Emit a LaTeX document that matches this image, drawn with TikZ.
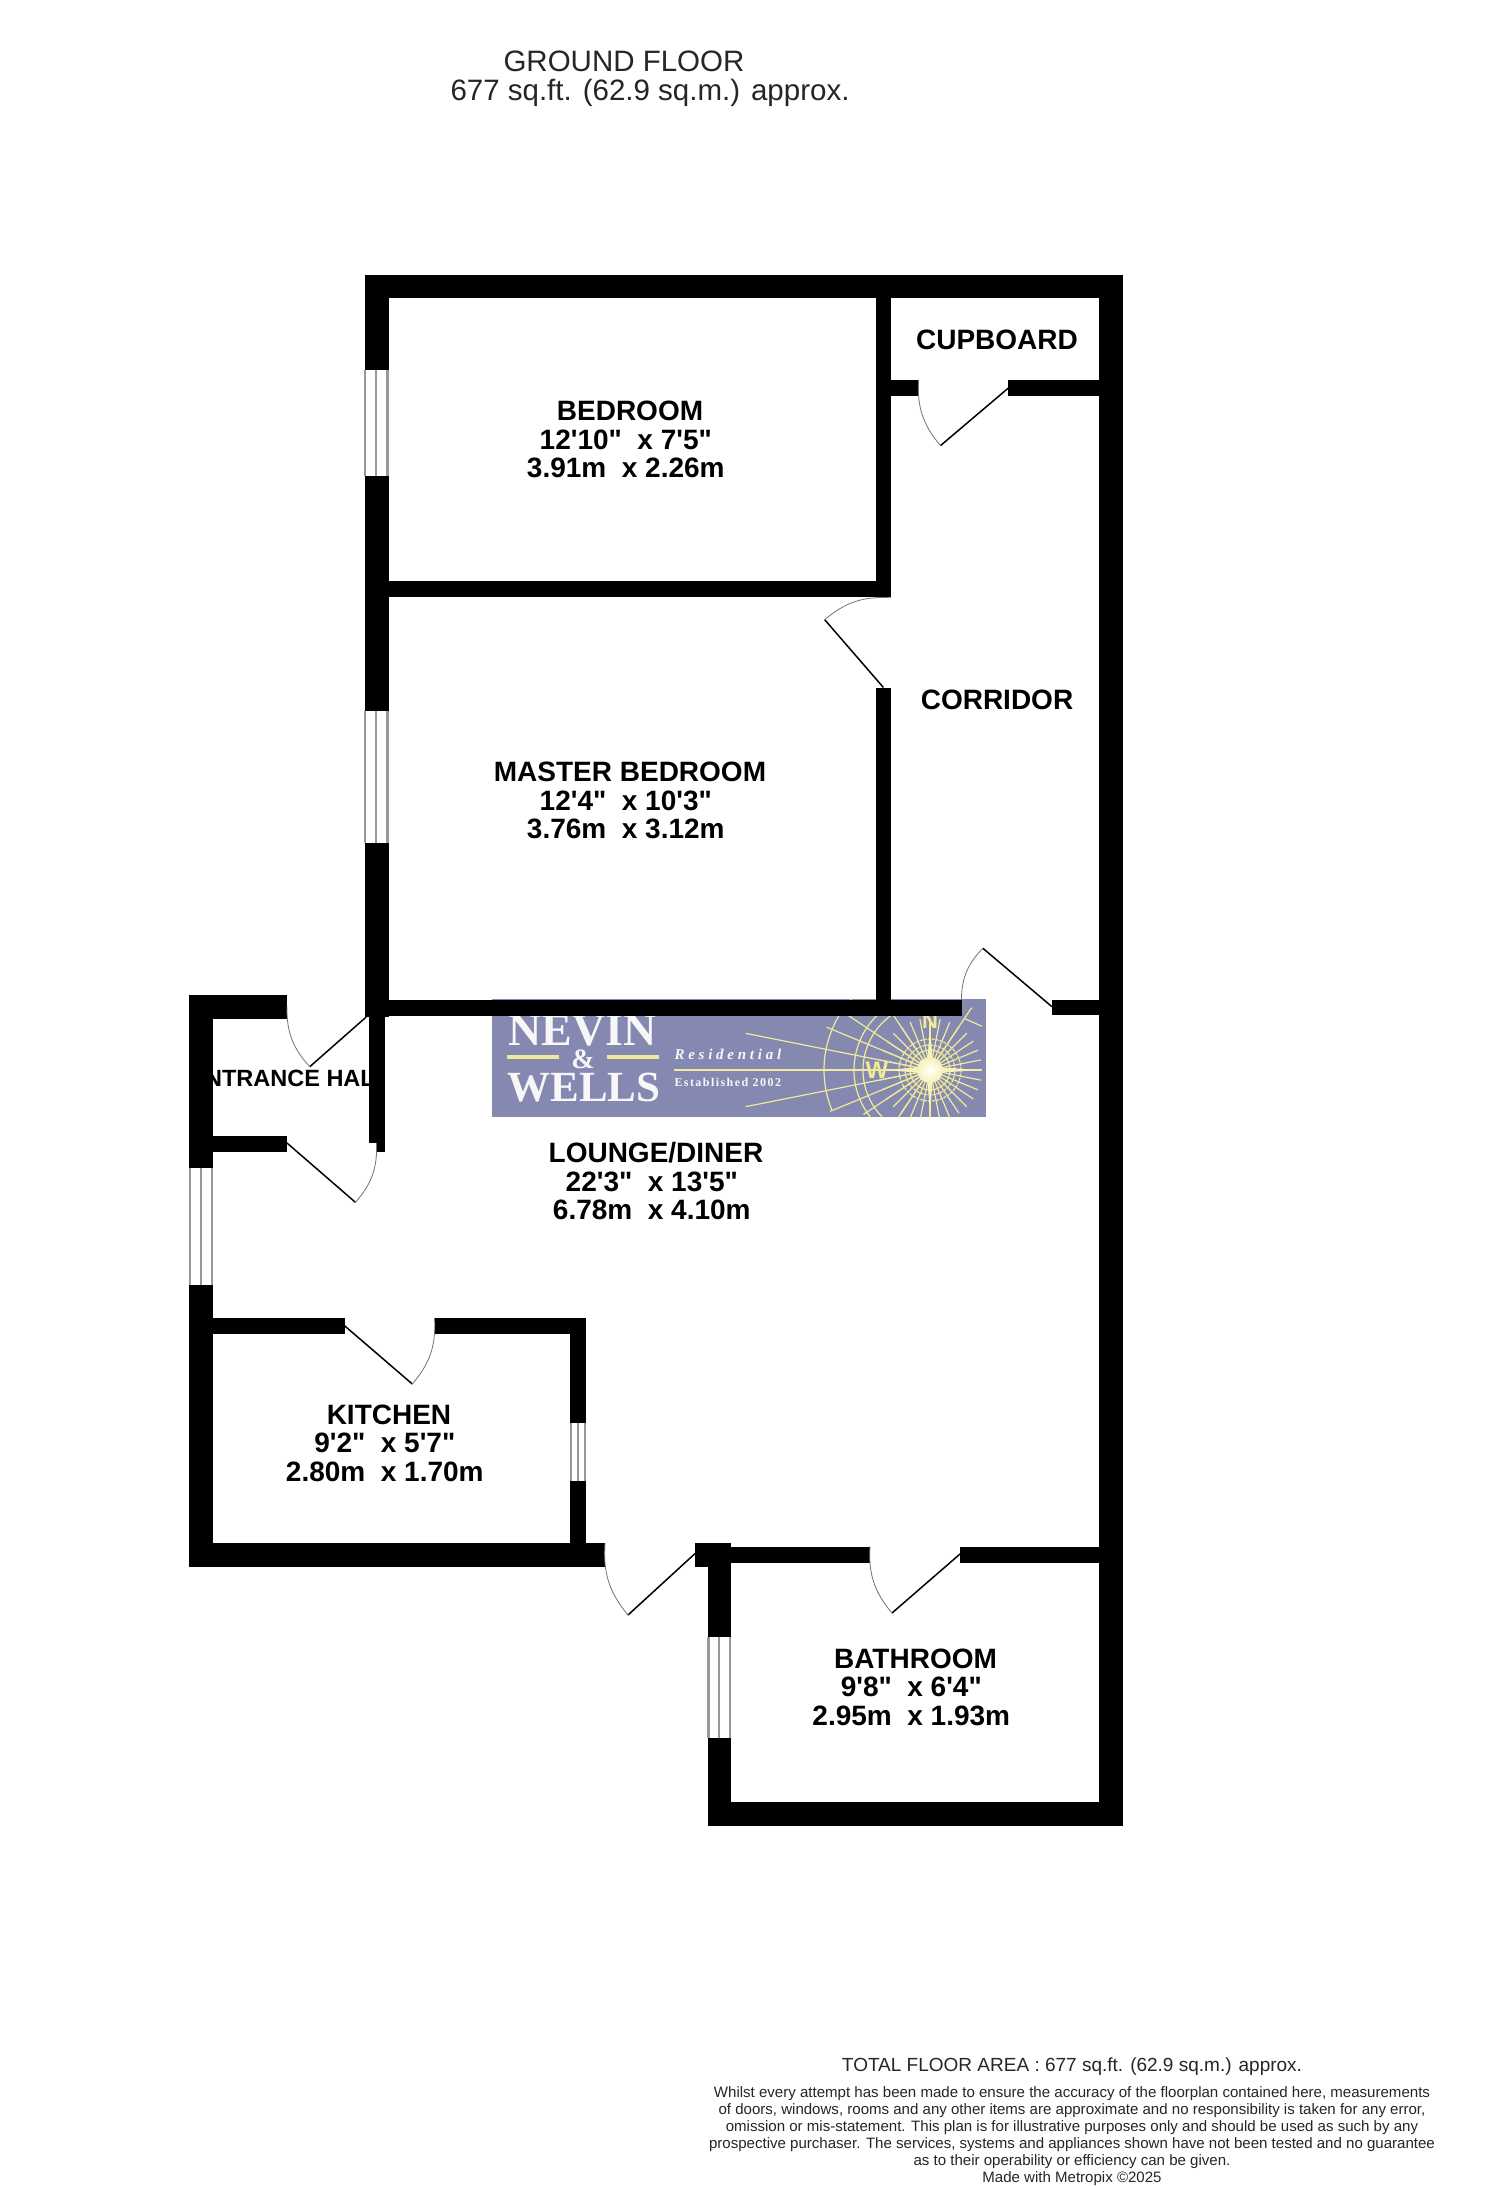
\documentclass[tikz,border=0pt]{standalone}
\usepackage{fontspec}
\setmainfont[Ligatures=TeXOff]{Liberation Sans}
\newfontfamily\logofont{Liberation Serif}
\newfontfamily\logoresid[LetterSpace=25]{Liberation Serif}
\newfontfamily\logoestab[LetterSpace=12]{Liberation Serif}
\usetikzlibrary{calc}
\definecolor{logobg}{HTML}{8589B2}
\definecolor{logoyl}{HTML}{F0EB98}
\definecolor{logowh}{HTML}{F7F7F7}
\newcommand{\wallrect}[4]{\fill[black] (#1,#2) rectangle (#3,#4);}
\newcommand{\winrect}[4]{%
  \fill[white] (#1,#2) rectangle (#3,#4);
  \draw[windowline] (#1+1,#2) -- (#1+1,#4);
  \draw[windowline] ({(#1+#3)/2},#2) -- ({(#1+#3)/2},#4);
  \draw[windowline] (#3-1,#2) -- (#3-1,#4);}
\newcommand{\doorswing}[4]{%
  \coordinate (dh) at #1; \coordinate (dt) at #2; \coordinate (de) at #3;
  \draw[doorleaf] (dh) -- (dt);
  \draw[doorarc] (dt) to[#4] (de);}
\newcommand{\lineshift}{\hspace{8.4pt}\mbox{}}
\tikzset{
  windowline/.style={draw=black!40,line width=2.2pt},
  doorleaf/.style={draw=black,line width=1.5pt},
  doorarc/.style={draw=black!55,line width=0.8pt},
  roomlabel/.style={font=\bfseries\fontsize{28}{28.5}\selectfont,align=center,text=black,inner sep=0pt},
  toplabel/.style={font=\fontsize{29.5}{30}\selectfont,align=center,text=black!85,inner sep=0pt},
  footlabel/.style={font=\fontsize{19}{22}\selectfont,align=center,text=black!85,inner sep=0pt},
  disclaimer/.style={font=\fontsize{15.05}{17}\selectfont,align=center,text=black!85,inner sep=0pt},
  logotext/.style={inner sep=0pt,text=logowh},
  compassline/.style={draw=logoyl,line width=1.2pt},
}
\begin{document}
\begin{tikzpicture}[x=1pt,y=-1pt]
\useasboundingbox (0,0) rectangle (1500,2186);
\fill[white] (0,0) rectangle (1500,2186);
% logo
\fill[logobg] (492,998.5) rectangle (986,1117);
\begin{scope}
\clip (492,998.5) rectangle (986,1117);
\begin{scope}[shift={(930,1070)},x=1pt,y=1pt]
  \foreach \a in {0,11.25,...,349} \draw[compassline] (\a:10) -- (\a:52);
  \draw[compassline] (180:256) -- (180:10);
  \draw[compassline] (168.75:188) -- (168.75:10);
  \draw[compassline] (191.25:188) -- (191.25:10);
  \draw[compassline] (157.5:112) -- (157.5:10);
  \draw[compassline] (202.5:108) -- (202.5:10);
  \draw[compassline] (146.25:112) -- (146.25:10);
  \draw[compassline] (213.75:80) -- (213.75:10);
  \draw[compassline] (123.75:90) -- (123.75:10);
  \draw[compassline] (236.25:58) -- (236.25:10);
  \draw[compassline] (56.25:75) -- (56.25:10);
  \draw[compassline] (108:106) arc[start angle=108,end angle=202.5,radius=106];
  \draw[compassline] (120:76) arc[start angle=120,end angle=240,radius=76];
  \draw[compassline] (115:67) arc[start angle=115,end angle=245,radius=67];
  \draw[compassline,dashed,dash pattern=on 3pt off 1pt] (0,0) circle[radius=31];
  \draw[compassline,dashed,dash pattern=on 3pt off 1pt] (0,0) circle[radius=25];
  \draw[compassline] (0,0) circle[radius=20];
  \draw[compassline] (40:68) -- (56:62);
  \fill[logoyl!70!white] (-46,0) -- (-7,3) -- (-3,7) -- (0,42) -- (3,7) -- (7,3) -- (48,0) -- (7,-3) -- (3,-7) -- (0,-42) -- (-3,-7) -- (-7,-3) -- cycle;
  \shade[inner color=white,outer color=logoyl!70!white] (0,0) circle[radius=13];
\end{scope}
\end{scope}
\node[logotext,anchor=base,font=\logofont\bfseries\fontsize{46}{46}\selectfont] (nevin) at (582.5,1045) {NEVIN};
\node[logotext,anchor=base,font=\logofont\bfseries\fontsize{28}{28}\selectfont] (amp) at (583,1068) {\&};
\node[logotext,anchor=base,font=\logofont\bfseries\fontsize{43}{43}\selectfont] (wells) at (584,1101) {WELLS};
\fill[logoyl] (506.7,1055) rectangle (559.3,1059.3);
\fill[logoyl] (607,1055) rectangle (659,1059.3);
\node[logotext,anchor=base west,font=\logoresid\bfseries\itshape\fontsize{15}{15}\selectfont] (resid) at (674.3,1059) {Residential};
\node[logotext,anchor=base west,font=\logoestab\bfseries\fontsize{12}{12}\selectfont] (estab) at (674.3,1086.7) {Established 2002};
\node[inner sep=0pt,text=logoyl,font=\bfseries\fontsize{24}{24}\selectfont] (compw) at (877,1070) {W};
\node[inner sep=0pt,text=logoyl,font=\bfseries\fontsize{22}{22}\selectfont] (compn) at (930,1021) {N};
% entrance hall label (under the walls)
\node[inner sep=0pt,font=\bfseries\fontsize{23.5}{24}\selectfont,text=black] (hall) at (290,1078) {NTRANCE HAL};
% walls
\wallrect{365}{275}{1123}{298}
\wallrect{1099}{275}{1123}{1826}
\wallrect{365}{275}{388.5}{1017}
\wallrect{388}{581}{891}{597}
\wallrect{876}{298}{891}{597}
\wallrect{891}{380}{918.6}{396}
\wallrect{1008}{380}{1099}{396}
\wallrect{876}{687.5}{891}{1000}
\wallrect{388}{999.5}{961.5}{1016}
\wallrect{1051.7}{1000}{1099}{1015}
% entrance hall
\wallrect{189}{995}{213}{1567}
\wallrect{189}{995}{287}{1019}
\wallrect{213}{1136}{287}{1152}
\wallrect{369}{1017}{385}{1143}
\wallrect{376.5}{1143}{385}{1152}
% kitchen
\wallrect{213}{1318}{344.5}{1334}
\wallrect{434.5}{1318}{586}{1334}
\wallrect{570}{1318}{586}{1543}
\wallrect{189}{1543}{605}{1567}
% bathroom
\wallrect{695}{1543}{731}{1567}
\wallrect{707.5}{1543}{731}{1826}
\wallrect{731}{1547}{870}{1563}
\wallrect{960}{1547}{1099}{1563}
\wallrect{707.5}{1802}{1123}{1826}
% windows
\winrect{364}{370}{388.5}{476}
\winrect{364}{711}{388.5}{843}
\winrect{189}{1168}{213}{1285}
\winrect{570}{1423}{586}{1481}
\winrect{707.5}{1637}{731}{1738}
% doors
\doorswing{(1008.4,388)}{(940.5,445.6)}{(918.6,380)}{bend left=22}
\doorswing{(883.4,687.5)}{(824.7,619.7)}{(891,597.8)}{bend left=22}
\doorswing{(1051.7,1006.5)}{(982.9,948.3)}{(961.4,1000)}{bend right=22}
\doorswing{(366.2,1017)}{(309.8,1066.7)}{(287,1006.7)}{bend left=22}
\doorswing{(287,1143)}{(355.4,1202.3)}{(376.5,1143)}{bend right=22}
\doorswing{(344.5,1325.7)}{(412.3,1384)}{(434.5,1318)}{bend right=22}
\doorswing{(695,1553.6)}{(628,1615)}{(605,1543)}{bend left=22}
\doorswing{(960,1554)}{(892,1613)}{(870,1546.4)}{bend left=22}
% labels
\node[toplabel] (ground) at (624,61) {GROUND FLOOR};
\node[toplabel] (area) at (650,93) {677 sq.ft. (62.9 sq.m.) approx.};
\node[roomlabel] (bed) at (630,439.5) {BEDROOM\\12'10"\ \ x 7'5"\lineshift\\3.91m\ \ x 2.26m\lineshift};
\node[roomlabel] (master) at (630,800.5) {MASTER BEDROOM\\12'4"\ \ x 10'3"\lineshift\\3.76m\ \ x 3.12m\lineshift};
\node[roomlabel] (cup) at (997,340) {CUPBOARD};
\node[roomlabel] (corr) at (997,700) {CORRIDOR};
\node[roomlabel] (lounge) at (656,1181) {LOUNGE/DINER\\22'3"\ \ x 13'5"\lineshift\\6.78m\ \ x 4.10m\lineshift};
\node[roomlabel] (kit) at (389,1443) {KITCHEN\\9'2"\ \ x 5'7"\lineshift\\2.80m\ \ x 1.70m\lineshift};
\node[roomlabel] (bath) at (915.5,1687) {BATHROOM\\9'8"\ \ x 6'4"\lineshift\\2.95m\ \ x 1.93m\lineshift};
\node[footlabel] (total) at (1072,2067) {TOTAL FLOOR AREA : 677 sq.ft. (62.9 sq.m.) approx.};
\node[disclaimer,anchor=north] (disc) at (1072,2086) {Whilst every attempt has been made to ensure the accuracy of the floorplan contained here, measurements\\of doors, windows, rooms and any other items are approximate and no responsibility is taken for any error,\\omission or mis-statement. This plan is for illustrative purposes only and should be used as such by any\\prospective purchaser. The services, systems and appliances shown have not been tested and no guarantee\\as to their operability or efficiency can be given.\\Made with Metropix \textcopyright2025};
\end{tikzpicture}
\end{document}
